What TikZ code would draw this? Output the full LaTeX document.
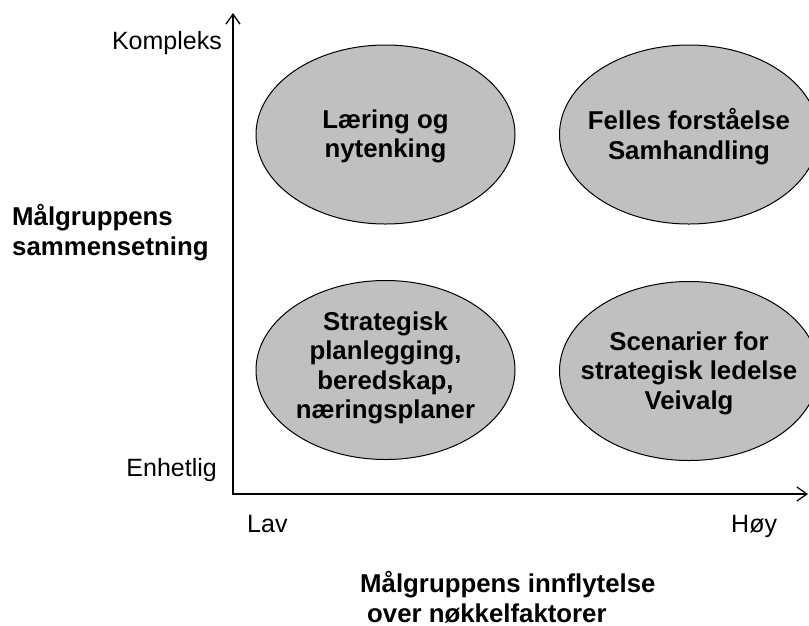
\documentclass[tikz,border=0pt]{standalone}
\usepackage{fontspec}
\setmainfont{Liberation Sans}
\usetikzlibrary{shapes.geometric,arrows.meta}
\definecolor{ellfill}{RGB}{192,192,192}
\tikzset{
  quad/.style={ellipse, draw=black, line width=1pt, fill=ellfill,
    minimum width=259pt, minimum height=179pt, inner sep=0pt},
  quadtext/.style={inner sep=0pt, align=center,
    font=\fontsize{25.8}{29.5}\selectfont\bfseries},
  axlabel/.style={inner sep=0pt, font=\fontsize{25}{30}\selectfont},
  axtitle/.style={inner sep=0pt, align=left, font=\fontsize{25.8}{29.5}\selectfont\bfseries},
  axis/.style={line width=1.3pt, {Straight Barb[length=10pt,width=14pt]}-{Straight Barb[length=10pt,width=14pt]}}
}
\begin{document}
\begin{tikzpicture}[x=1pt,y=-1pt]
\useasboundingbox (0,0) rectangle (809,625);
% quadrant ellipses
\node[quad] (tl) at (385.5,134.5) {};
\node[quad] (tr) at (689,134.5) {};
\node[quad] (bl) at (385.5,370) {};
\node[quad] (br) at (689,371) {};
\node[quadtext] (tltext) at ([yshift=-2pt]tl.center) {Læring og\\nytenking};
\node[quadtext] (trtext) at ([yshift=-2pt]tr.center) {Felles forståelse\\Samhandling};
\node[quadtext] (bltext) at ([yshift=2pt]bl.center) {Strategisk\\planlegging,\\beredskap,\\næringsplaner};
\node[quadtext] (brtext) at ([yshift=-2pt]br.center) {Scenarier for\\strategisk ledelse\\Veivalg};
% axes
\coordinate (origin) at (233,494);
\coordinate (ytop) at (233,13);
\coordinate (xend) at (808,494);
\draw[axis] (ytop) -- (origin) -- (xend);
% axis labels
\node[axlabel, anchor=mid east] (kompleks) at (222,47) {Kompleks};
\node[axlabel, anchor=mid east] (enhetlig) at (217,474) {Enhetlig};
\node[axlabel, anchor=mid west] (lav) at (247,530) {Lav};
\node[axlabel, anchor=mid west] (hoy) at (731,530) {Høy};
% axis titles
\node[axtitle, anchor=west] (ytitle) at (12,232.5) {Målgruppens\\sammensetning};
\node[axtitle, anchor=west] (xtitle) at (360,597) {Målgruppens innflytelse\\\hspace*{7pt}over nøkkelfaktorer};
\end{tikzpicture}
\end{document}
